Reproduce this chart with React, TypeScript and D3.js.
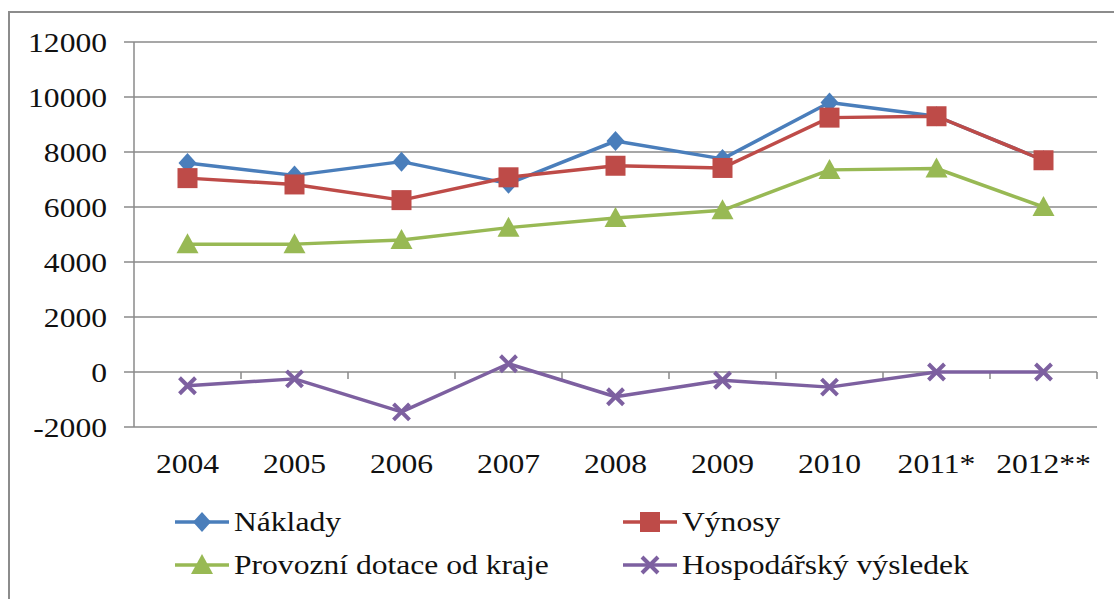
import React, { useEffect, useRef } from 'react';
import * as d3 from 'd3';

const categories = ['2004', '2005', '2006', '2007', '2008', '2009', '2010', '2011*', '2012**'];
const naklady = [7600, 7150, 7650, 6850, 8400, 7750, 9800, 9300, 7700];
const vynosy = [7050, 6820, 6250, 7080, 7500, 7420, 9250, 9300, 7700];
const dotace = [4650, 4650, 4800, 5250, 5600, 5880, 7350, 7400, 6000];
const vysledek = [-500, -250, -1450, 300, -900, -300, -550, 0, 0];
const yTicks = [-2000, 0, 2000, 4000, 6000, 8000, 10000, 12000];

const series = [
	{ name: 'Náklady', values: naklady, color: '#4A7EBB', marker: 'diamond' },
	{ name: 'Výnosy', values: vynosy, color: '#BE4B48', marker: 'square' },
	{ name: 'Provozní dotace od kraje', values: dotace, color: '#98B954', marker: 'triangle' },
	{ name: 'Hospodářský výsledek', values: vysledek, color: '#7D60A0', marker: 'x' },
];

const FONT = 'Liberation Serif';
const SX = 1.17; // the original is a bit stretched horizontally

const drawMarker = (g, type, color, x, y) => {
	if (type === 'diamond') {
		g.append('path')
			.attr('d', `M${x},${y - 10}L${x + 9},${y}L${x},${y + 10}L${x - 9},${y}Z`)
			.attr('fill', color);
	} else if (type === 'square') {
		g.append('rect')
			.attr('x', x - 10).attr('y', y - 10)
			.attr('width', 20).attr('height', 20)
			.attr('fill', color);
	} else if (type === 'triangle') {
		g.append('path')
			.attr('d', `M${x},${y - 11}L${x + 11},${y + 9}L${x - 11},${y + 9}Z`)
			.attr('fill', color);
	} else {
		g.append('path')
			.attr('d', `M${x - 8},${y - 8}L${x + 8},${y + 8}M${x - 8},${y + 8}L${x + 8},${y - 8}`)
			.attr('stroke', color)
			.attr('stroke-width', 4);
	}
};

const drawChart = (element) => {
	d3.select(element).select('svg').remove();
	const svg = d3.select(element)
		.append('svg')
		.attr('width', 1114)
		.attr('height', 599)
		.style('display', 'block')
		.style('background', '#fff');

	// outer frame (right/bottom edges are cropped away)
	svg.append('path')
		.attr('d', 'M9,620V12H1130')
		.attr('fill', 'none')
		.attr('stroke', '#8c8c8c')
		.attr('stroke-width', 2);

	const x = d3.scaleBand().domain(categories).range([134, 1097]);
	const y = d3.scaleLinear().domain([-2000, 12000]).range([427, 42]);

	// gridlines
	svg.append('g')
		.selectAll('line')
		.data(yTicks)
		.join('line')
		.attr('x1', 124).attr('x2', 1097)
		.attr('y1', (d) => y(d)).attr('y2', (d) => y(d))
		.attr('stroke', '#8a8a8a')
		.attr('stroke-width', 1.5);

	// y axis line
	svg.append('line')
		.attr('x1', 134).attr('x2', 134)
		.attr('y1', y(12000)).attr('y2', y(-2000))
		.attr('stroke', '#8a8a8a')
		.attr('stroke-width', 1.5);

	// category ticks on the zero line
	const bounds = categories.map((c) => x(c) + x.bandwidth());
	svg.append('g')
		.selectAll('line')
		.data(bounds)
		.join('line')
		.attr('x1', (d) => d).attr('x2', (d) => d)
		.attr('y1', y(0)).attr('y2', y(0) + 7)
		.attr('stroke', '#8a8a8a')
		.attr('stroke-width', 1.5);

	// y labels
	svg.append('g')
		.selectAll('text')
		.data(yTicks)
		.join('text')
		.attr('transform', (d) => `translate(107,${y(d) + 10}) scale(${SX},1)`)
		.attr('text-anchor', 'end')
		.attr('font-family', FONT)
		.attr('font-size', 27)
		.attr('fill', '#111')
		.text((d) => d);

	// x labels
	svg.append('g')
		.selectAll('text')
		.data(categories)
		.join('text')
		.attr('transform', (d) => `translate(${x(d) + x.bandwidth() / 2},473) scale(${SX},1)`)
		.attr('text-anchor', 'middle')
		.attr('font-family', FONT)
		.attr('font-size', 27)
		.attr('fill', '#111')
		.text((d) => d);

	const line = d3.line()
		.x((d, i) => x(categories[i]) + x.bandwidth() / 2)
		.y((d) => y(d));

	series.forEach((s) => {
		const g = svg.append('g');
		g.append('path')
			.attr('d', line(s.values))
			.attr('fill', 'none')
			.attr('stroke', s.color)
			.attr('stroke-width', 3.5)
			.attr('stroke-linejoin', 'round');
		s.values.forEach((v, i) => {
			drawMarker(g, s.marker, s.color, x(categories[i]) + x.bandwidth() / 2, y(v));
		});
	});

	// legend
	const legendPos = [
		{ x: 175, y: 522 },
		{ x: 623, y: 522 },
		{ x: 175, y: 565 },
		{ x: 623, y: 565 },
	];
	series.forEach((s, i) => {
		const p = legendPos[i];
		const g = svg.append('g');
		g.append('line')
			.attr('x1', p.x).attr('x2', p.x + 54)
			.attr('y1', p.y).attr('y2', p.y)
			.attr('stroke', s.color)
			.attr('stroke-width', 3.5);
		drawMarker(g, s.marker, s.color, p.x + 27, p.y);
		g.append('text')
			.attr('transform', `translate(${p.x + 59},${p.y + 9}) scale(${SX},1)`)
			.attr('font-family', FONT)
			.attr('font-size', 27)
			.attr('fill', '#111')
			.text(s.name);
	});
};

export default function App() {
	const chartRef = useRef(null);

	useEffect(() => {
		if (chartRef.current) {
			drawChart(chartRef.current);
		}
	}, [chartRef]);

	return <div ref={chartRef} style={{ position: 'absolute', left: 0, top: 0 }} />;
}
